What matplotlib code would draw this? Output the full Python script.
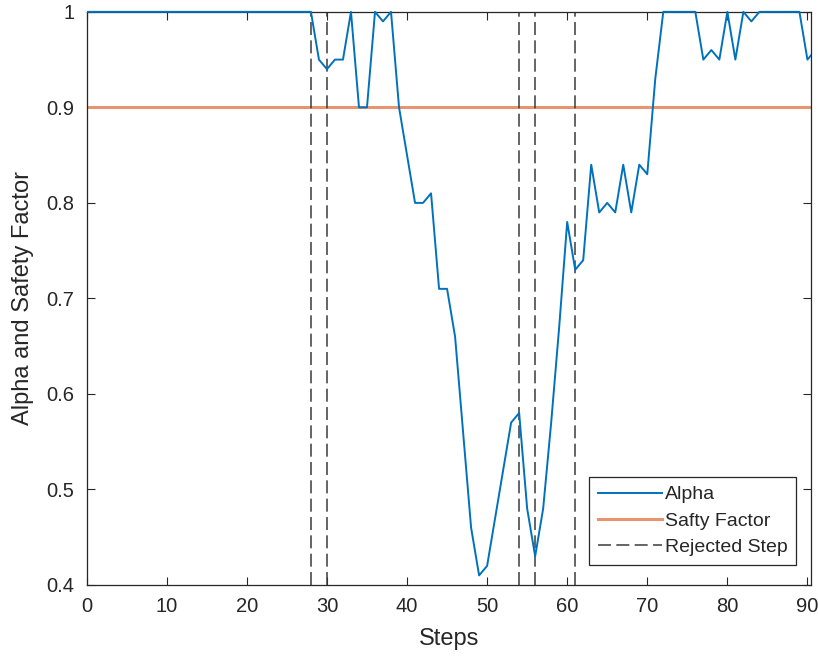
import matplotlib
matplotlib.use("Agg")
import matplotlib.pyplot as plt
from matplotlib.ticker import FuncFormatter
from matplotlib.transforms import Bbox, TransformedBbox

# Daten
steps = list(range(0, 92))
alpha = [1.0] * 29 + [
    0.95, 0.94, 0.95, 0.95, 1.0, 0.90, 0.90, 1.0, 0.99, 1.0,   # 29-38
    0.90, 0.85, 0.80, 0.80, 0.81, 0.71, 0.71, 0.66, 0.56, 0.46,  # 39-48
    0.41, 0.42, 0.47, 0.52, 0.57, 0.58, 0.48, 0.43, 0.48, 0.57,  # 49-58
    0.67, 0.78, 0.73, 0.74, 0.84, 0.79, 0.80, 0.79, 0.84, 0.79,  # 59-68
    0.84, 0.83, 0.93, 1.0, 1.0, 1.0, 1.0, 1.0, 0.95, 0.96,       # 69-78
    0.95, 1.0, 0.95, 1.0, 0.99, 1.0, 1.0, 1.0, 1.0, 1.0,         # 79-88
    1.0, 0.95, 0.96,                                             # 89-91
]
safety_factor = 0.9
rejected_steps = [28, 30, 54, 56, 61]

plt.rcParams['font.family'] = ['Liberation Sans', 'DejaVu Sans']

fig = plt.figure(figsize=(8.18, 6.58), dpi=100)
ax = fig.add_axes([0.106, 0.111, 0.885, 0.871])

line, = ax.plot(steps, alpha, color='#0072BD', lw=1.4, label='Alpha', zorder=3)
# Linie bei 1 soll über der Achse sichtbar bleiben
line.set_clip_box(TransformedBbox(Bbox([[0, -0.01], [1, 1.01]]), ax.transAxes))

ax.axhline(safety_factor, color='#E8946F', lw=2.2, label='Safty Factor')
for i, s in enumerate(rejected_steps):
    ax.axvline(s, color='#3a3a3a', lw=1.1, ls=(0, (8.5, 3.5)),
               label='Rejected Step' if i == 0 else None)

ax.set_xlim(0, 90.4)
ax.set_ylim(0.4, 1.0)
ax.set_xticks(range(0, 91, 10))
ax.set_yticks([0.4, 0.5, 0.6, 0.7, 0.8, 0.9, 1.0])
ax.yaxis.set_major_formatter(FuncFormatter(lambda v, p: f"{v:g}"))

ax.tick_params(direction='in', length=6, width=0.8, colors='#262626',
               labelsize=14.5, top=True, right=True)
ax.tick_params(axis='x', pad=9)
ax.tick_params(axis='y', pad=9)
for sp in ax.spines.values():
    sp.set_color('#262626')
    sp.set_linewidth(0.9)

ax.set_xlabel('Steps', fontsize=17, color='#262626', labelpad=8)
ax.set_ylabel('Alpha and Safety Factor', fontsize=17, color='#262626', labelpad=9)

leg = ax.legend(loc='lower right', bbox_to_anchor=(0.98, 0.035),
                fontsize=14, handlelength=3.3, handletextpad=0.15,
                labelspacing=0.45, borderpad=0.45, borderaxespad=0,
                fancybox=False, framealpha=1, edgecolor='#262626')
leg.get_frame().set_linewidth(0.9)
for t in leg.get_texts():
    t.set_color('#262626')

fig.savefig('out.png', dpi=100)
